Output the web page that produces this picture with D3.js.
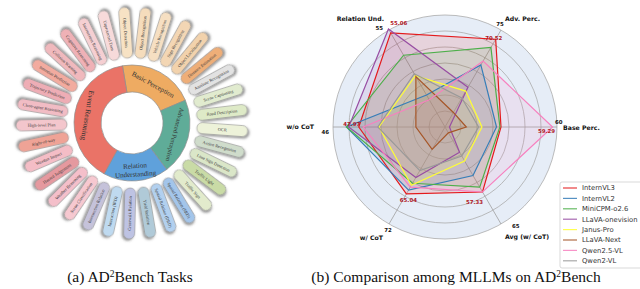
<!DOCTYPE html>
<html>
<head>
<meta charset="utf-8">
<script src="https://cdn.jsdelivr.net/npm/d3@7"></script>
<style>
  body { margin: 0; background: #fff; }
  svg { display: block; }
</style>
</head>
<body>
<div id="vis"></div>
<script>
// frame
const FRAME_WIDTH = 640;
const FRAME_HEIGHT = 289;

// ---- (a) task wheel data ----
const groups = ["Basic Perception", "Advanced Perception", "Relation Understanding", "Event Reasoning"];
const groupCounts = [7, 7, 6, 13];
const groupColors = ["#eeab62", "#5fac98", "#5fa1db", "#ea7367"];

const tasks = [
  "Object Detection", "Object Recognition", "Vehicle Recognition", "Sign Recognition",
  "Object Localization", "Distance Estimation", "Attribute Recognition",
  "Scene Captioning", "Road Description", "OCR", "Action Recognition",
  "Lane Sign Detection", "Traffic Light", "Traffic Sign",
  "Spatial Relation (SRD)", "Spatial Relation (DRD)", "Yield Relation",
  "Crosswalk Relation", "Interaction (IRD)", "Intersection Relation",
  "Scene Classification", "Weather Reasoning", "Hazard Judgement", "Weather Impact",
  "Right-of-way", "High-level Plan", "Close-agent Reasoning", "Trajectory Prediction",
  "Intention Prediction", "Collision Warning", "Cognitive Reasoning",
  "Intersection Reasoning", "Unprotected Turn"
];
const taskColors = [
  "#f7e2c4", "#f5dcbc", "#f6dfc2", "#f3d6b4", "#f2d2ac", "#eeae78", "#e2e2e2",
  "#e1ebcf", "#deeac7", "#edf2d9", "#cfdccb", "#dae6c8", "#c9dba6", "#e2ebcc",
  "#a3c5ea", "#b2d0ef", "#b0cad8", "#bec3e3", "#bfdaf0", "#c5c2da",
  "#f6c8d0", "#f4bfca", "#e5999f", "#f4bdc6", "#efa396", "#f3c6cc", "#f1bcc4",
  "#eeadb5", "#f2ab9f", "#f0b9bd", "#efb1b6", "#f5cfd2", "#f7dada"
];

// ---- (b) radar data (normalised to the outer ring) ----
const axes = ["Base Perc.", "Adv. Perc.", "Relation Und.", "w/o CoT", "w/ CoT", "Avg (w/ CoT)"];
const axisMax = ["60", "75", "55", "46", "72", "65"];
const models = ["InternVL3", "InternVL2", "MiniCPM-o2.6", "LLaVA-onevision",
                "Janus-Pro", "LLaVA-Next", "Qwen2.5-VL", "Qwen2-VL"];
const modelColors = ["#e41a1c", "#377eb8", "#4daf4a", "#984ea3",
                     "#ffff33", "#a65628", "#f781bf", "#999999"];

const internVL3   = [0.50, 0.905, 0.97, 0.77, 0.69, 0.67];
const internVL2   = [0.46, 0.64, 0.33, 0.88, 0.65, 0.50];
const miniCPM     = [0.49, 0.82, 0.74, 0.88, 0.58, 0.62];
const llavaOV     = [0.04, 0.41, 1.01, 0.86, 0.52, 0.26];
const janusPro    = [0.33, 0.37, 0.53, 0.59, 0.60, 0.35];
const llavaNext   = [0.19, 0.15, 0.52, 0.26, 0.23, 0.06];
const qwen25      = [0.96, 0.68, 0.28, 0.73, 0.62, 0.67];
const qwen2       = [0.30, 0.30, 0.55, 0.60, 0.45, 0.30];
const series = [internVL3, internVL2, miniCPM, llavaOV, janusPro, llavaNext, qwen25, qwen2];

const bestLabels = ["59.29", "70.52", "55.06", "47.97", "65.04", "57.33"];
const bestModel = [6, 0, 0, 0, 0, 0];

// svg
const svg = d3.select("#vis")
  .append("svg")
    .attr("width", FRAME_WIDTH)
    .attr("height", FRAME_HEIGHT);

const defs = svg.append("defs");
defs.append("filter")
    .attr("id", "shadow")
    .attr("x", "-50%").attr("y", "-50%").attr("width", "200%").attr("height", "200%")
  .append("feDropShadow")
    .attr("dx", 1.5).attr("dy", 1.5)
    .attr("stdDeviation", 1.1)
    .attr("flood-color", "#444")
    .attr("flood-opacity", 0.6);

// ================= (a) wheel =================
const WHEEL = {cx: 132, cy: 123, hole: 31, ring: 58, pillIn: 65, pillOut: 116, pillW: 11};
const N = tasks.length;
const startDeg = -4 - 180 / N;

const angleScale = d3.scaleLinear()
  .domain([0, N])
  .range([startDeg, startDeg + 360]);

const wheel = svg.append("g")
  .attr("transform", "translate(" + WHEEL.cx + "," + WHEEL.cy + ")");

// pills
const pills = wheel.selectAll(".pill")
  .data(tasks)
  .enter()
  .append("g")
    .attr("class", "pill")
    .attr("transform", (d, i) => "rotate(" + (angleScale(i + 0.5) - 90) + ")");

pills.append("rect")
  .attr("x", WHEEL.pillIn)
  .attr("y", -WHEEL.pillW / 2)
  .attr("width", WHEEL.pillOut - WHEEL.pillIn)
  .attr("height", WHEEL.pillW)
  .attr("rx", WHEEL.pillW / 2)
  .attr("fill", (d, i) => taskColors[i])
  .attr("stroke", "#959595")
  .attr("stroke-width", 0.6)
  .attr("filter", "url(#shadow)");

pills.append("text")
  .attr("transform", (d, i) => {
    const a = ((angleScale(i + 0.5) % 360) + 360) % 360;
    const mid = (WHEEL.pillIn + WHEEL.pillOut) / 2;
    return "translate(" + mid + ",0)" + (a > 180 ? " rotate(180)" : "");
  })
  .attr("text-anchor", "middle")
  .attr("dy", "0.35em")
  .attr("font-family", "Liberation Serif, serif")
  .attr("font-size", 4.4)
  .attr("fill", "#3a3a3a")
  .text(d => d);

// donut
const pie = d3.pie()
  .sort(null)
  .value(d => d)
  .startAngle(startDeg * Math.PI / 180)
  .endAngle((startDeg + 360) * Math.PI / 180);

const arc = d3.arc()
  .innerRadius(WHEEL.hole)
  .outerRadius(WHEEL.ring);

const arcs = pie(groupCounts);

wheel.selectAll(".seg")
  .data(arcs)
  .enter()
  .append("path")
    .attr("class", "seg")
    .attr("d", arc)
    .attr("fill", (d, i) => groupColors[i])
    .attr("stroke", "#8c8c8c")
    .attr("stroke-width", 0.7);

const labelR = [44, 44.5, 47, 45];
const labelSize = [7, 6.4, 7, 7.4];
arcs.forEach((d, i) => {
  const mid = (d.startAngle + d.endAngle) / 2;
  const deg = mid * 180 / Math.PI;
  const x = labelR[i] * Math.sin(mid);
  const y = -labelR[i] * Math.cos(mid);
  let rot = deg;
  if (deg > 135) rot = deg - 180;
  const t = wheel.append("text")
    .attr("transform", "translate(" + x + "," + y + ") rotate(" + rot + ")")
    .attr("text-anchor", "middle")
    .attr("font-family", "Liberation Serif, serif")
    .attr("font-size", labelSize[i])
    .attr("fill", "#333");
  const words = groups[i] === "Relation Understanding" ? ["Relation", "Understanding"] : [groups[i]];
  words.forEach((w, k) => {
    t.append("tspan")
      .attr("x", 0)
      .attr("dy", k === 0 ? (words.length > 1 ? "-0.25em" : "0.35em") : "1.2em")
      .text(w);
  });
});

// ================= (b) radar =================
const RADAR = {cx: 445, cy: 127, r: 112};
const rScale = d3.scaleLinear().domain([0, 1]).range([0, RADAR.r]);
const axisAngle = i => Math.PI / 2 - i * Math.PI / 3;

const radar = svg.append("g")
  .attr("transform", "translate(" + RADAR.cx + "," + RADAR.cy + ")");

radar.append("circle")
  .attr("r", rScale(1))
  .attr("fill", "#e6edf7");

const rings = d3.range(1, 8).map(k => k / 7);
radar.selectAll(".ring")
  .data(rings)
  .enter()
  .append("circle")
    .attr("class", "ring")
    .attr("r", d => rScale(d))
    .attr("fill", "none")
    .attr("stroke", "#ababab")
    .attr("stroke-width", 0.8);

radar.selectAll(".spoke")
  .data(axes)
  .enter()
  .append("line")
    .attr("class", "spoke")
    .attr("x1", 0).attr("y1", 0)
    .attr("x2", (d, i) => rScale(1) * Math.sin(axisAngle(i)))
    .attr("y2", (d, i) => -rScale(1) * Math.cos(axisAngle(i)))
    .attr("stroke", "#a0a0a0")
    .attr("stroke-width", 0.8);

const radarLine = d3.lineRadial()
  .angle((d, i) => axisAngle(i))
  .radius(d => rScale(d))
  .curve(d3.curveLinearClosed);

radar.selectAll(".area")
  .data(series)
  .enter()
  .append("path")
    .attr("class", "area")
    .attr("d", radarLine)
    .attr("fill", (d, i) => modelColors[i])
    .attr("fill-opacity", 0.12)
    .attr("stroke", "none");

radar.selectAll(".poly")
  .data(series)
  .enter()
  .append("path")
    .attr("class", "poly")
    .attr("d", radarLine)
    .attr("fill", "none")
    .attr("stroke", (d, i) => modelColors[i])
    .attr("stroke-width", 1.2);

// axis names and max values
const nameOff = [[6, 3, "start"], [4, -9, "start"], [-5, -9, "end"], [-19, 2, "end"], [-6, 16, "end"], [4, 15, "start"]];
const maxOff = [[-2, -3, "start"], [-1, -4, "middle"], [-6, 0, "end"], [-4, 7, "end"], [-1, 8, "middle"], [11, 4, "start"]];

axes.forEach((name, i) => {
  const ex = rScale(1) * Math.sin(axisAngle(i));
  const ey = -rScale(1) * Math.cos(axisAngle(i));
  radar.append("text")
    .attr("x", ex + nameOff[i][0]).attr("y", ey + nameOff[i][1])
    .attr("text-anchor", nameOff[i][2])
    .attr("font-family", "DejaVu Sans, sans-serif")
    .attr("font-weight", "bold")
    .attr("font-size", 6.2)
    .attr("fill", "#111")
    .text(name);
  radar.append("text")
    .attr("x", ex + maxOff[i][0]).attr("y", ey + maxOff[i][1])
    .attr("text-anchor", maxOff[i][2])
    .attr("font-family", "DejaVu Sans, sans-serif")
    .attr("font-weight", "bold")
    .attr("font-size", 5.4)
    .attr("fill", "#111")
    .text(axisMax[i]);
});

// best value labels
const bestOff = [[-6, 6], [-2, 1], [8, -8], [-7, -1], [2, 8], [-8, 12]];
bestLabels.forEach((lab, i) => {
  const v = series[bestModel[i]][i];
  const px = rScale(v) * Math.sin(axisAngle(i));
  const py = -rScale(v) * Math.cos(axisAngle(i));
  radar.append("text")
    .attr("x", px + bestOff[i][0]).attr("y", py + bestOff[i][1])
    .attr("text-anchor", "middle")
    .attr("font-family", "DejaVu Sans, sans-serif")
    .attr("font-weight", "bold")
    .attr("font-size", 5.4)
    .attr("fill", "#b0171f")
    .text(lab);
});

// legend
const LEG = {x: 560, y: 182, w: 82, h: 86, row: 10.4};
const legend = svg.append("g");
legend.append("rect")
  .attr("x", LEG.x).attr("y", LEG.y)
  .attr("width", LEG.w).attr("height", LEG.h)
  .attr("rx", 2)
  .attr("fill", "#fff")
  .attr("fill-opacity", 0.9)
  .attr("stroke", "#cfcfcf")
  .attr("stroke-width", 0.8);

const items = legend.selectAll(".item")
  .data(models)
  .enter()
  .append("g")
    .attr("class", "item")
    .attr("transform", (d, i) => "translate(" + LEG.x + "," + (LEG.y + 6 + i * LEG.row) + ")");

items.append("line")
  .attr("x1", 3).attr("x2", 17)
  .attr("stroke", (d, i) => modelColors[i])
  .attr("stroke-opacity", 0.85)
  .attr("stroke-width", 1.2);

items.append("text")
  .attr("x", 22)
  .attr("dy", "0.35em")
  .attr("font-family", "DejaVu Sans, sans-serif")
  .attr("font-size", 6.8)
  .attr("fill", "#333")
  .text(d => d);

// captions
function caption(x, before, after) {
  const t = svg.append("text")
    .attr("x", x).attr("y", 282)
    .attr("text-anchor", "middle")
    .attr("font-family", "Liberation Serif, serif")
    .attr("font-size", 15.5)
    .attr("fill", "#111");
  t.append("tspan").text(before);
  t.append("tspan").attr("font-size", 9.5).attr("dy", -5.5).text("2");
  t.append("tspan").attr("dy", 5.5).text(after);
}
caption(130, "(a) AD", "Bench Tasks");
caption(456, "(b) Comparison among MLLMs on AD", "Bench");
</script>
</body>
</html>
